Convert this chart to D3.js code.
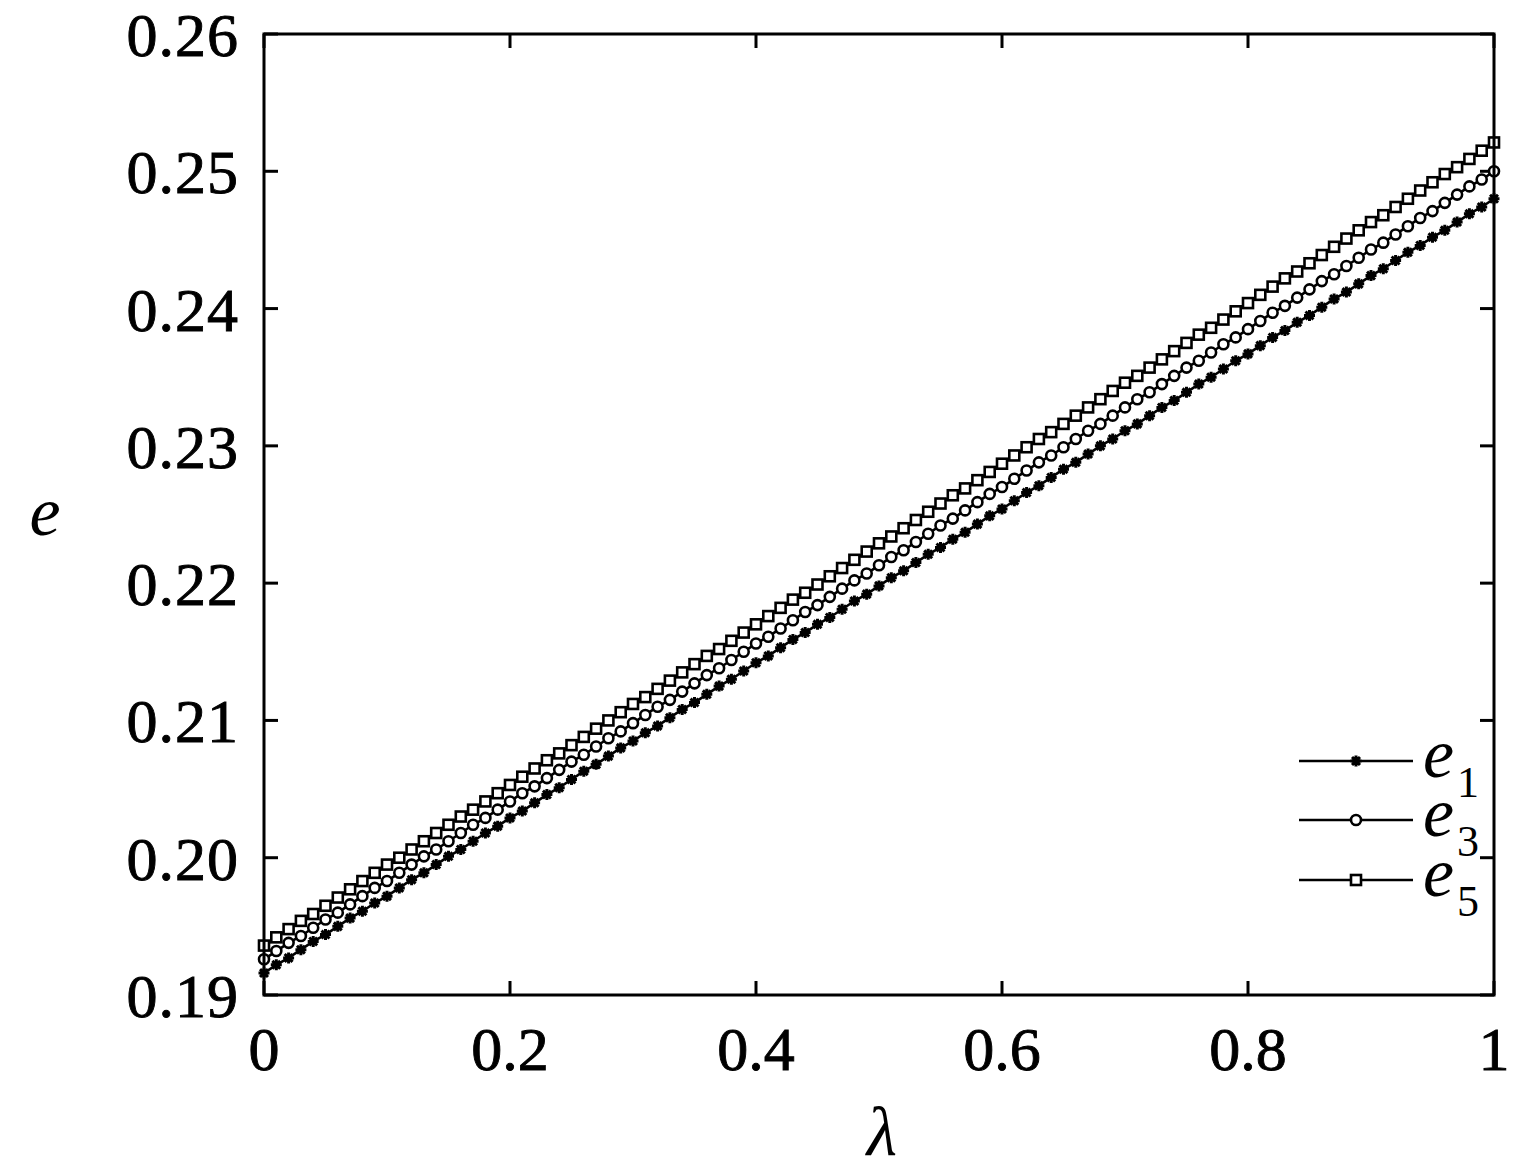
<!DOCTYPE html>
<html><head><meta charset="utf-8">
<script src="https://cdn.jsdelivr.net/npm/d3@7"></script>
<style>body{margin:0;background:#fff}svg{display:block}</style>
</head><body>
<script>
const lambda = [0,0.01,0.02,0.03,0.04,0.05,0.06,0.07,0.08,0.09,0.10,0.11,0.12,0.13,0.14,0.15,0.16,0.17,0.18,0.19,0.20,0.21,0.22,0.23,0.24,0.25,0.26,0.27,0.28,0.29,0.30,0.31,0.32,0.33,0.34,0.35,0.36,0.37,0.38,0.39,0.40,0.41,0.42,0.43,0.44,0.45,0.46,0.47,0.48,0.49,0.50,0.51,0.52,0.53,0.54,0.55,0.56,0.57,0.58,0.59,0.60,0.61,0.62,0.63,0.64,0.65,0.66,0.67,0.68,0.69,0.70,0.71,0.72,0.73,0.74,0.75,0.76,0.77,0.78,0.79,0.80,0.81,0.82,0.83,0.84,0.85,0.86,0.87,0.88,0.89,0.90,0.91,0.92,0.93,0.94,0.95,0.96,0.97,0.98,0.99,1.00];
const e1 = [0.1916,0.1922,0.1927,0.1933,0.1939,0.1944,0.1950,0.1956,0.1961,0.1967,0.1972,0.1978,0.1984,0.1989,0.1995,0.2001,0.2006,0.2012,0.2018,0.2023,0.2029,0.2034,0.2040,0.2046,0.2051,0.2057,0.2063,0.2068,0.2074,0.2080,0.2085,0.2091,0.2096,0.2102,0.2108,0.2113,0.2119,0.2125,0.2130,0.2136,0.2142,0.2147,0.2153,0.2159,0.2164,0.2170,0.2175,0.2181,0.2187,0.2192,0.2198,0.2204,0.2209,0.2215,0.2221,0.2226,0.2232,0.2237,0.2243,0.2249,0.2254,0.2260,0.2266,0.2271,0.2277,0.2283,0.2288,0.2294,0.2300,0.2305,0.2311,0.2316,0.2322,0.2328,0.2333,0.2339,0.2345,0.2350,0.2356,0.2362,0.2367,0.2373,0.2379,0.2384,0.2390,0.2395,0.2401,0.2407,0.2412,0.2418,0.2424,0.2429,0.2435,0.2441,0.2446,0.2452,0.2457,0.2463,0.2469,0.2474,0.2480];
const e3 = [0.1926,0.1932,0.1938,0.1943,0.1949,0.1955,0.1960,0.1966,0.1972,0.1978,0.1983,0.1989,0.1995,0.2001,0.2006,0.2012,0.2018,0.2024,0.2029,0.2035,0.2041,0.2047,0.2052,0.2058,0.2064,0.2070,0.2075,0.2081,0.2087,0.2092,0.2098,0.2104,0.2110,0.2115,0.2121,0.2127,0.2133,0.2138,0.2144,0.2150,0.2156,0.2161,0.2167,0.2173,0.2179,0.2184,0.2190,0.2196,0.2202,0.2207,0.2213,0.2219,0.2224,0.2230,0.2236,0.2242,0.2247,0.2253,0.2259,0.2265,0.2270,0.2276,0.2282,0.2288,0.2293,0.2299,0.2305,0.2311,0.2316,0.2322,0.2328,0.2334,0.2339,0.2345,0.2351,0.2357,0.2362,0.2368,0.2374,0.2379,0.2385,0.2391,0.2397,0.2402,0.2408,0.2414,0.2420,0.2425,0.2431,0.2437,0.2443,0.2448,0.2454,0.2460,0.2466,0.2471,0.2477,0.2483,0.2489,0.2494,0.2500];
const e5 = [0.1936,0.1942,0.1948,0.1954,0.1959,0.1965,0.1971,0.1977,0.1983,0.1989,0.1995,0.2000,0.2006,0.2012,0.2018,0.2024,0.2030,0.2035,0.2041,0.2047,0.2053,0.2059,0.2065,0.2071,0.2076,0.2082,0.2088,0.2094,0.2100,0.2106,0.2112,0.2117,0.2123,0.2129,0.2135,0.2141,0.2147,0.2152,0.2158,0.2164,0.2170,0.2176,0.2182,0.2188,0.2193,0.2199,0.2205,0.2211,0.2217,0.2223,0.2229,0.2234,0.2240,0.2246,0.2252,0.2258,0.2264,0.2269,0.2275,0.2281,0.2287,0.2293,0.2299,0.2305,0.2310,0.2316,0.2322,0.2328,0.2334,0.2340,0.2346,0.2351,0.2357,0.2363,0.2369,0.2375,0.2381,0.2386,0.2392,0.2398,0.2404,0.2410,0.2416,0.2422,0.2427,0.2433,0.2439,0.2445,0.2451,0.2457,0.2463,0.2468,0.2474,0.2480,0.2486,0.2492,0.2498,0.2503,0.2509,0.2515,0.2521];
const xTicks = [0, 0.2, 0.4, 0.6, 0.8, 1];
const xTickLabels = ["0", "0.2", "0.4", "0.6", "0.8", "1"];
const yTicks = [0.19, 0.20, 0.21, 0.22, 0.23, 0.24, 0.25, 0.26];
const yTickLabels = ["0.19", "0.20", "0.21", "0.22", "0.23", "0.24", "0.25", "0.26"];
const seriesNames = ["1", "3", "5"];
const seriesMarkers = ["star", "circle", "square"];

const W = 1515, H = 1176;
const m = {l: 264, r: 1494, t: 34, b: 995};
const svg = d3.select("body").append("svg").attr("width", W).attr("height", H);
const x = d3.scaleLinear().domain([0, 1]).range([m.l, m.r]);
const y = d3.scaleLinear().domain([0.19, 0.26]).range([m.b, m.t]);
const font = "'Liberation Serif','DejaVu Serif',serif";
const TL = 14;

// ticks (inward, mirrored)
const ax = svg.append("g").attr("stroke", "#000").attr("stroke-width", 3);
xTicks.forEach(v => {
  ax.append("line").attr("x1", x(v)).attr("x2", x(v)).attr("y1", m.b).attr("y2", m.b - TL);
  ax.append("line").attr("x1", x(v)).attr("x2", x(v)).attr("y1", m.t).attr("y2", m.t + TL);
});
yTicks.forEach(v => {
  ax.append("line").attr("y1", y(v)).attr("y2", y(v)).attr("x1", m.l).attr("x2", m.l + TL);
  ax.append("line").attr("y1", y(v)).attr("y2", y(v)).attr("x1", m.r).attr("x2", m.r - TL);
});

// data
const series = [e1, e3, e5];
const line = d3.line().x((d, i) => x(lambda[i])).y(d => y(d));
const gData = svg.append("g");
function drawMarker(g, type, cx, cy) {
  if (type === "star") {
    const s = 5.5;
    const p = `M${cx-s},${cy}L${cx+s},${cy}M${cx},${cy-s}L${cx},${cy+s}M${cx-s*0.72},${cy-s*0.72}L${cx+s*0.72},${cy+s*0.72}M${cx-s*0.72},${cy+s*0.72}L${cx+s*0.72},${cy-s*0.72}`;
    g.append("path").attr("d", p).attr("stroke", "#000").attr("stroke-width", 3).attr("fill", "none");
  } else if (type === "circle") {
    g.append("circle").attr("cx", cx).attr("cy", cy).attr("r", 5).attr("fill", "#fff").attr("stroke", "#000").attr("stroke-width", 2.6);
  } else {
    g.append("rect").attr("x", cx - 5).attr("y", cy - 5).attr("width", 10).attr("height", 10).attr("fill", "#fff").attr("stroke", "#000").attr("stroke-width", 2.6);
  }
}
series.forEach((s, k) => {
  gData.append("path").datum(s).attr("d", line).attr("fill", "none").attr("stroke", "#000").attr("stroke-width", 2.6);
});
series.forEach((s, k) => {
  const g = gData.append("g");
  s.forEach((d, i) => drawMarker(g, seriesMarkers[k], x(lambda[i]), y(d)));
});

// border
svg.append("rect").attr("x", m.l).attr("y", m.t).attr("width", m.r - m.l).attr("height", m.b - m.t)
  .attr("fill", "none").attr("stroke", "#000").attr("stroke-width", 3);

// tick labels
const fs = 62;
xTicks.forEach((v, i) => {
  svg.append("text").attr("x", x(v)).attr("y", 1070).attr("text-anchor", "middle")
    .attr("font-family", font).attr("font-size", fs).attr("stroke", "#000").attr("stroke-width", 0.9).text(xTickLabels[i]);
});
yTicks.forEach((v, i) => {
  svg.append("text").attr("x", 239).attr("y", y(v) + 22).attr("text-anchor", "end")
    .attr("font-family", font).attr("font-size", fs).attr("stroke", "#000").attr("stroke-width", 0.9)
    .attr("letter-spacing", 1).text(yTickLabels[i]);
});

// axis labels
svg.append("text").attr("x", 45).attr("y", 535).attr("text-anchor", "middle")
  .attr("font-family", font).attr("font-style", "italic").attr("font-size", 70).text("e");
svg.append("text").attr("x", 882).attr("y", 1155).attr("text-anchor", "middle")
  .attr("font-family", font).attr("font-style", "italic").attr("font-size", 70).text("λ");

// legend
const legY = [761, 820, 880];
seriesNames.forEach((n, k) => {
  const g = svg.append("g");
  g.append("line").attr("x1", 1299).attr("x2", 1413).attr("y1", legY[k]).attr("y2", legY[k])
    .attr("stroke", "#000").attr("stroke-width", 2.6);
  drawMarker(g, seriesMarkers[k], 1356, legY[k]);
});
const legText = svg.append("text").attr("font-family", font);
seriesNames.forEach((n, k) => {
  legText.append("tspan").attr("x", 1423).attr("y", legY[k] + 16)
    .attr("font-style", "italic").attr("font-size", 70).text("e");
  legText.append("tspan").attr("x", 1457).attr("y", legY[k] + 36)
    .attr("font-size", 44).text(n);
});
</script>
</body></html>
